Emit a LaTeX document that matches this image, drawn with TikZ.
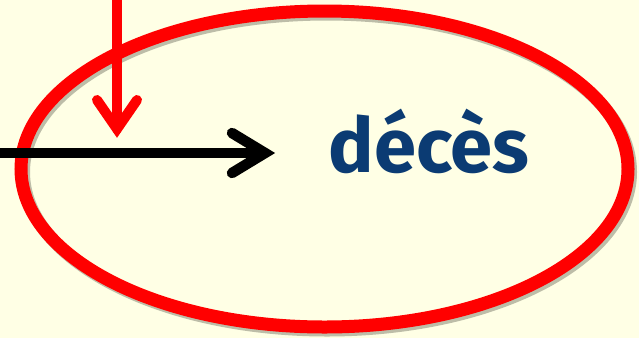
\documentclass[tikz,border=0pt]{standalone}
\usepackage{fontspec}
\setmainfont{Poppins}
\newfontfamily\labelfont{Fira Sans}
\usetikzlibrary{shapes.geometric}
\definecolor{bgcream}{HTML}{FFFFE5}
\definecolor{deepblue}{HTML}{0B3B73}
\definecolor{shade}{HTML}{BDBDA8}
\tikzset{
  ring/.style={ellipse, draw=red, line width=13pt, minimum width=607pt, minimum height=316pt, inner sep=0pt},
  ringshadow/.style={ellipse, draw=shade, line width=13pt, minimum width=607pt, minimum height=316pt, inner sep=0pt},
  flow/.style={line width=10.5pt, line cap=round, line join=miter, miter limit=10},
  barb/.style={flow, fill=none},
  word/.style={text=deepblue, font=\labelfont\fontsize{76}{84}\selectfont\bfseries, inner sep=0pt}
}
\begin{document}
\begin{tikzpicture}[x=1pt,y=-1pt]
\useasboundingbox (0,0) rectangle (639,338);
\fill[bgcream] (0,0) rectangle (639,338);
% outline with a soft drop shadow
\node[ringshadow] (outlineshadow) at (327,172) {};
\node[ring] (outline) at (324.5,169) {};
% label
\node[word, anchor=base] (label) at (429,172) {décès};
% incoming black arrow
\coordinate (bsrc) at (-10,153);
\coordinate (btip) at (265,153);
\coordinate (bup) at (232,133);
\coordinate (bdn) at (232,173);
\draw[flow, black] (bsrc) -- (btip);
\draw[barb, black] (bup) -- (btip) -- (bdn);
% incoming red arrow
\coordinate (rsrc) at (117,-10);
\coordinate (rtip) at (117,129);
\coordinate (rl) at (97,100);
\coordinate (rr) at (137,100);
\draw[flow, red, line width=10pt] (rsrc) -- (rtip);
\draw[barb, red, line width=10pt] (rl) -- (rtip) -- (rr);
\end{tikzpicture}
\end{document}
